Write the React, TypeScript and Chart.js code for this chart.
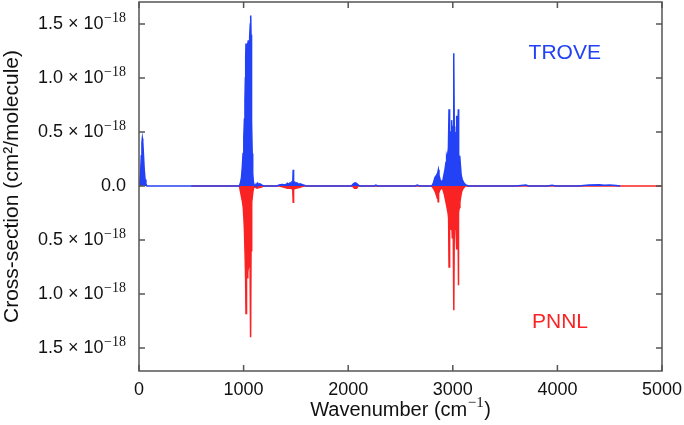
import React, { useEffect, useRef } from 'react';
import { Chart, registerables } from 'chart.js';

Chart.register(...registerables);

// Wavenumber (cm^-1) and cross-section values in units of 1e-18 cm^2/molecule
const troveWavenumbers = [
  0, 8, 15, 22, 28, 32, 36, 42, 50, 58, 66, 75,
  960, 970, 980, 988, 995, 1002, 1008, 1013, 1017, 1020, 1023, 1026, 1029, 1033, 1037, 1041, 1045, 1048,
  1052, 1056, 1060, 1064, 1068, 1071, 1074, 1078, 1082, 1087, 1093, 1100, 1110, 1120, 1128, 1135, 1142, 1150, 1158, 1165,
  1180, 1200, 1320, 1340, 1370, 1400, 1420, 1430, 1445, 1455, 1462, 1470, 1474, 1478, 1490, 1500, 1510, 1525, 1540, 1570, 1600,
  2030, 2050, 2065, 2080, 2095, 2110, 2250, 2265, 2280, 2640, 2660, 2680,
  2800, 2815, 2830, 2845, 2855, 2862, 2868, 2878, 2890, 2905, 2915, 2925, 2935, 2941, 2946, 2952, 2958,
  2964, 2967, 2972, 2978, 2983, 2989, 2993, 2998, 3003, 3007, 3011, 3014, 3018, 3023, 3028, 3033, 3037,
  3041, 3045, 3049, 3053, 3056, 3061, 3066, 3072, 3080, 3090, 3105, 3125, 3150,
  3600, 3700, 3720, 3900, 3950, 3980, 4200, 4300, 4400, 4450, 4500, 4560, 4600,
];
const troveValues = [
  0, 0.03, 0.12, 0.28, 0.4, 0.44, 0.41, 0.3, 0.15, 0.06, 0.02, 0,
  0, 0.03, 0.08, 0.18, 0.3, 0.45, 0.62, 0.8, 1.0, 1.2, 1.32, 1.15, 1.25, 1.28, 1.2, 1.3, 1.35, 1.2,
  1.25, 1.3, 1.38, 1.5, 1.58, 1.4, 1.0, 0.6, 0.3, 0.12, 0.04, 0.01, 0, 0.02, 0.01, 0.025, 0.012, 0.02, 0.01, 0.015,
  0.005, 0, 0, 0.01, 0.015, 0.01, 0.025, 0.015, 0.03, 0.02, 0.035, 0.03, 0.15, 0.03, 0.035, 0.02, 0.03, 0.015, 0.02, 0.01, 0,
  0, 0.02, 0.03, 0.025, 0.01, 0, 0, 0.008, 0, 0, 0.008, 0,
  0, 0.03, 0.08, 0.1, 0.12, 0.15, 0.1, 0.06, 0.04, 0.05, 0.1, 0.15, 0.22, 0.27, 0.25, 0.3, 0.35,
  0.71, 0.38, 0.4, 0.45, 0.5, 0.61, 0.45, 0.5, 0.55, 0.6, 1.23, 0.55, 0.5, 0.45, 0.5, 0.45, 0.65,
  0.4, 0.35, 0.45, 0.71, 0.3, 0.25, 0.28, 0.2, 0.1, 0.06, 0.03, 0.01, 0,
  0, 0.01, 0, 0, 0.008, 0, 0, 0.01, 0.012, 0.008, 0.01, 0.005, 0,
];

const pnnlWavenumbers = [
  500, 960, 970, 980, 990, 997, 1003, 1008, 1012, 1016, 1019, 1023, 1026, 1030, 1034, 1038, 1042, 1046,
  1050, 1054, 1058, 1062, 1066, 1068, 1071, 1075, 1080, 1088, 1095, 1105, 1110, 1130, 1150, 1170, 1190,
  1340, 1380, 1420, 1450, 1470, 1474, 1478, 1500, 1530, 1560, 1580,
  2040, 2060, 2080, 2095,
  2800, 2820, 2835, 2848, 2856, 2860, 2864, 2875, 2890, 2905, 2920, 2935, 2945, 2955, 2960, 2964, 2967,
  2972, 2978, 2984, 2990, 2995, 2999, 3004, 3008, 3011, 3014, 3019, 3024, 3030, 3037, 3040, 3046, 3050,
  3053, 3056, 3062, 3068, 3075, 3085, 3100, 3120, 5000,
];
const pnnlValues = [
  0, 0, -0.05, -0.1, -0.15, -0.2, -0.3, -0.4, -0.55, -0.7, -0.85, -1.18, -0.8, -0.75, -0.85, -0.7, -0.8, -0.75,
  -0.65, -0.7, -0.6, -0.75, -0.9, -1.4, -0.6, -0.3, -0.15, -0.06, -0.02, 0, -0.01, -0.02, -0.015, -0.01, 0,
  0, -0.01, -0.02, -0.02, -0.03, -0.15, -0.03, -0.02, -0.015, -0.005, 0,
  0, -0.02, -0.02, 0,
  0, -0.03, -0.06, -0.1, -0.08, -0.145, -0.07, -0.04, -0.02, -0.03, -0.08, -0.15, -0.2, -0.25, -0.3, -0.75, -0.3,
  -0.3, -0.35, -0.4, -0.35, -0.48, -0.35, -0.38, -0.4, -1.15, -0.4, -0.35, -0.38, -0.4, -0.58, -0.3, -0.35, -0.3,
  -0.92, -0.25, -0.2, -0.15, -0.1, -0.05, -0.02, 0, 0,
];

const xTicks = [0, 1000, 2000, 3000, 4000, 5000];
const xTickLabels = ['0', '1000', '2000', '3000', '4000', '5000'];
const yTicks = [1.5, 1.0, 0.5, 0, -0.5, -1.0, -1.5];
const yTickMantissas = ['1.5', '1.0', '0.5', '0.0', '0.5', '1.0', '1.5'];
const yTickExponents = ['−18', '−18', '−18', '', '−18', '−18', '−18'];
const seriesNames = ['TROVE', 'PNNL'];
const xTitle = ['Wavenumber (cm', '−1', ')'];
const yTitle = 'Cross-section (cm²/molecule)';

const BLUE = 'rgb(35, 65, 245)';
const RED = 'rgb(250, 35, 35)';
const FONT = '"Liberation Sans", Arial, Helvetica, sans-serif';
const SERIF = '"Liberation Serif", "DejaVu Serif", serif';

const framePlugin = {
  id: 'frameAndLabels',
  afterDatasetsDraw(chart: any) {
    const { ctx, chartArea, scales } = chart;
    const { left, right, top, bottom } = chartArea;
    ctx.save();
    ctx.strokeStyle = '#555';
    ctx.lineWidth = 1.5;
    ctx.strokeRect(left, top, right - left, bottom - top);
    const tl = 6;
    ctx.beginPath();
    for (const v of xTicks) {
      const x = scales.x.getPixelForValue(v);
      ctx.moveTo(x, bottom);
      ctx.lineTo(x, bottom - tl);
      ctx.moveTo(x, top);
      ctx.lineTo(x, top + tl);
    }
    for (const v of yTicks) {
      const y = scales.y.getPixelForValue(v);
      ctx.moveTo(left, y);
      ctx.lineTo(left + tl, y);
      ctx.moveTo(right, y);
      ctx.lineTo(right - tl, y);
    }
    ctx.stroke();

    // y tick labels with raised exponents
    ctx.fillStyle = '#111';
    ctx.textBaseline = 'middle';
    ctx.textAlign = 'right';
    const labelRight = left - 13;
    yTicks.forEach((v, i) => {
      const y = scales.y.getPixelForValue(v);
      const exp = yTickExponents[i];
      let xr = labelRight;
      if (exp) {
        ctx.font = `14px ${SERIF}`;
        const ew = ctx.measureText(exp).width;
        ctx.fillText(exp, xr, y - 6);
        xr -= ew + 0.5;
        ctx.font = `18px ${FONT}`;
        ctx.fillText(`${yTickMantissas[i]} × 10`, xr, y);
      } else {
        ctx.font = `18px ${FONT}`;
        ctx.fillText(yTickMantissas[i], xr, y);
      }
    });

    // x title with raised exponent
    ctx.textAlign = 'left';
    ctx.font = `20px ${FONT}`;
    const w0 = ctx.measureText(xTitle[0]).width;
    const w2 = ctx.measureText(xTitle[2]).width;
    ctx.font = `15px ${SERIF}`;
    const w1 = ctx.measureText(xTitle[1]).width;
    const total = w0 + w1 + w2 + 1;
    const cx = (left + right) / 2;
    const ty = 410;
    let x0 = cx - total / 2;
    ctx.font = `20px ${FONT}`;
    ctx.fillText(xTitle[0], x0, ty);
    x0 += w0 + 0.5;
    ctx.font = `15px ${SERIF}`;
    ctx.fillText(xTitle[1], x0, ty - 7);
    x0 += w1 + 0.5;
    ctx.font = `20px ${FONT}`;
    ctx.fillText(xTitle[2], x0, ty);

    // series labels
    ctx.font = `21px ${FONT}`;
    ctx.textAlign = 'center';
    ctx.textBaseline = 'middle';
    ctx.fillStyle = BLUE;
    ctx.fillText(seriesNames[0], scales.x.getPixelForValue(4070), scales.y.getPixelForValue(1.23));
    ctx.fillStyle = RED;
    ctx.fillText(seriesNames[1], scales.x.getPixelForValue(4025), scales.y.getPixelForValue(-1.26));
    ctx.restore();
  },
};

export default function App() {
  const canvasRef = useRef<HTMLCanvasElement | null>(null);

  useEffect(() => {
    if (!canvasRef.current) return;
    const chart = new Chart(canvasRef.current, {
      type: 'scatter',
      data: {
        datasets: [
          {
            label: seriesNames[0],
            data: troveWavenumbers.map((x, i) => ({ x, y: troveValues[i] })),
            showLine: true,
            borderColor: BLUE,
            backgroundColor: BLUE,
            borderWidth: 1.5,
            pointRadius: 0,
            fill: 'origin',
            order: 0,
          },
          {
            label: seriesNames[1],
            data: pnnlWavenumbers.map((x, i) => ({ x, y: pnnlValues[i] })),
            showLine: true,
            borderColor: RED,
            backgroundColor: RED,
            borderWidth: 1.5,
            pointRadius: 0,
            fill: 'origin',
            order: 1,
          },
        ],
      },
      options: {
        animation: false,
        responsive: true,
        maintainAspectRatio: false,
        layout: { padding: { left: 0, right: 22, top: 2, bottom: 3 } },
        plugins: {
          legend: { display: false },
          tooltip: { enabled: false },
        },
        scales: {
          x: {
            type: 'linear',
            min: 0,
            max: 5000,
            grid: { display: false, drawTicks: false },
            border: { display: false },
            afterBuildTicks: (s: any) => {
              s.ticks = xTicks.map((v) => ({ value: v }));
            },
            afterFit: (s: any) => {
              s.height = 51;
              s.paddingLeft = 0;
              s.paddingRight = 0;
            },
            ticks: {
              padding: 8,
              color: '#111',
              font: { family: FONT, size: 18 },
              maxRotation: 0,
              callback: (v: any) => {
                const i = xTicks.indexOf(Number(v));
                return i >= 0 ? xTickLabels[i] : '';
              },
            },
            title: { display: false },
          },
          y: {
            type: 'linear',
            min: -1.713,
            max: 1.704,
            grid: { display: false, drawTicks: false },
            border: { display: false },
            afterBuildTicks: (s: any) => {
              s.ticks = yTicks.map((v) => ({ value: v }));
            },
            afterFit: (s: any) => {
              s.width = 139;
              s.paddingTop = 0;
              s.paddingBottom = 0;
            },
            ticks: { display: false },
            title: {
              display: true,
              text: yTitle,
              color: '#111',
              font: { family: FONT, size: 21 },
              padding: 0,
            },
          },
        },
      },
      plugins: [framePlugin],
    });
    return () => chart.destroy();
  }, []);

  return (
    <div style={{ position: 'fixed', left: 0, top: 0, width: 684, height: 425, background: '#fff' }}>
      <canvas ref={canvasRef} />
    </div>
  );
}
